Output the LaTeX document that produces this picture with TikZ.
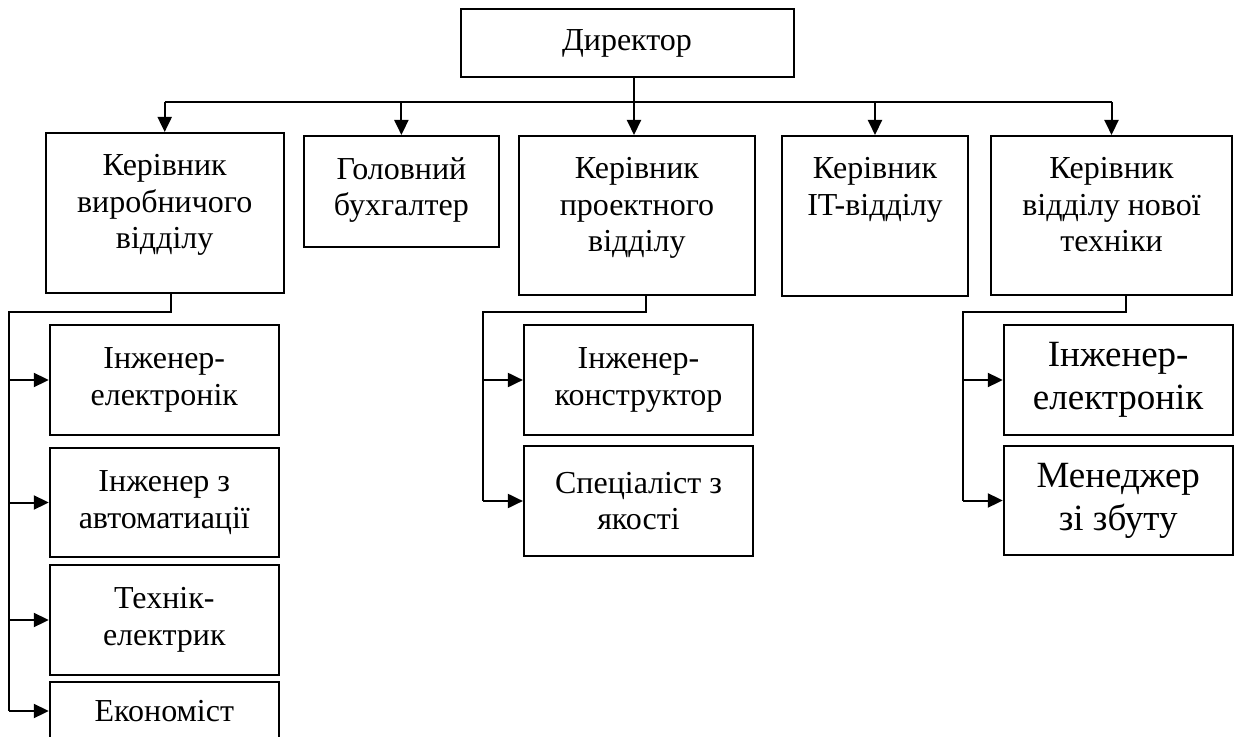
\documentclass[tikz,border=0pt]{standalone}
\usepackage{fontspec}
\setmainfont{Liberation Serif}
\usetikzlibrary{arrows.meta}

\begin{document}
\begin{tikzpicture}[x=0.5pt, y=-0.5pt,
  box/.style={draw, line width=1pt, inner sep=0pt, align=center, font=\fontsize{16}{18.3}\selectfont},
  big/.style={font=\fontsize{18.5}{21.5}\selectfont},
  head/.style={label={[anchor=north, align=center, inner sep=0pt, yshift=-11pt, font=\fontsize{16}{18.3}\selectfont]north:#1}},
  link/.style={line width=1pt},
  arr/.style={line width=1pt, -{Triangle[length=7.5pt, width=7pt]}}]
  \useasboundingbox (0,0) rectangle (1235,737);
  \node[box, minimum width=166.5pt, minimum height=34pt] (dir) at (627,43) {Директор};
  \node[box, minimum width=118.8pt, minimum height=80pt, head={Керівник\\виробничого\\відділу}] (b1) at (164.7,213) {};
  \node[box, minimum width=97.6pt, minimum height=55.5pt, head={Головний\\бухгалтер}] (b2) at (401.4,191.5) {};
  \node[box, minimum width=117.8pt, minimum height=79.5pt, head={Керівник\\проектного\\відділу}] (b3) at (636.9,215.5) {};
  \node[box, minimum width=92.8pt, minimum height=80pt, head={Керівник\\IT-відділу}] (b4) at (875,216) {};
  \node[box, minimum width=120.2pt, minimum height=79.5pt, head={Керівник\\відділу нової\\техніки}] (b5) at (1111.5,215.5) {};
  \node[box, minimum width=114.5pt, minimum height=55pt] (sa) at (164.3,380) {Інженер-\\електронік};
  \node[box, minimum width=114.5pt, minimum height=54.5pt] (sb) at (164.3,502.5) {Інженер з\\автоматиації};
  \node[box, minimum width=114.5pt, minimum height=55pt] (sc) at (164.3,620) {Технік-\\електрик};
  \node[box, minimum width=114.5pt, minimum height=29pt] (sd) at (164.3,711) {Економіст};
  \node[box, minimum width=114.6pt, minimum height=55pt] (se) at (638.5,380) {Інженер-\\конструктор};
  \node[box, minimum width=114.6pt, minimum height=55pt] (sf) at (638.5,501) {Спеціаліст з\\якості};
  \node[box, big, minimum width=114.4pt, minimum height=55pt] (sg) at (1118.2,380) {Інженер-\\електронік};
  \node[box, big, minimum width=114.4pt, minimum height=54.5pt] (sh) at (1118.2,500.5) {Менеджер\\зі збуту};
  \coordinate (bus) at (634,102);
  \coordinate (ltap) at (171,312);
  \coordinate (lbus) at (9,312);
  \coordinate (mtap) at (646,312);
  \coordinate (mbus) at (483,312);
  \coordinate (rtap) at (1126,312);
  \coordinate (rbus) at (963,312);
  \draw[link] (dir.south -| bus) -- (bus);
  \draw[link] (b1.north |- bus) -- (b5.north |- bus);
  \draw[arr] (b1.north |- bus) -- (b1.north);
  \draw[arr] (b2.north |- bus) -- (b2.north);
  \draw[arr] (bus) -- (b3.north -| bus);
  \draw[arr] (b4.north |- bus) -- (b4.north);
  \draw[arr] (b5.north |- bus) -- (b5.north);
  \draw[link] (b1.south -| ltap) -- (ltap) -- (lbus) -- (lbus |- sd.west);
  \draw[arr] (lbus |- sa.west) -- (sa.west);
  \draw[arr] (lbus |- sb.west) -- (sb.west);
  \draw[arr] (lbus |- sc.west) -- (sc.west);
  \draw[arr] (lbus |- sd.west) -- (sd.west);
  \draw[link] (b3.south -| mtap) -- (mtap) -- (mbus) -- (mbus |- sf.west);
  \draw[arr] (mbus |- se.west) -- (se.west);
  \draw[arr] (mbus |- sf.west) -- (sf.west);
  \draw[link] (b5.south -| rtap) -- (rtap) -- (rbus) -- (rbus |- sh.west);
  \draw[arr] (rbus |- sg.west) -- (sg.west);
  \draw[arr] (rbus |- sh.west) -- (sh.west);
\end{tikzpicture}
\end{document}
